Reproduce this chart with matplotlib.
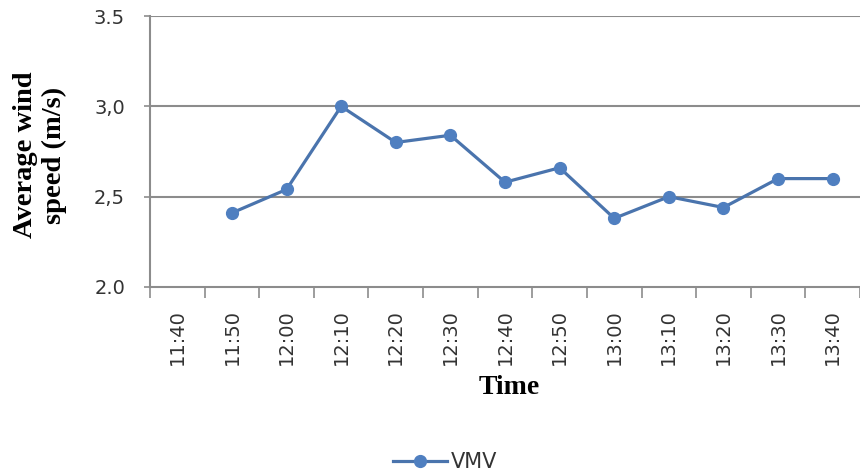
import numpy as np
import matplotlib
matplotlib.use("Agg")
import matplotlib.pyplot as plt
from matplotlib.ticker import FixedLocator

times = ["11:40", "11:50", "12:00", "12:10", "12:20", "12:30", "12:40",
         "12:50", "13:00", "13:10", "13:20", "13:30", "13:40"]
vmv = [np.nan, 2.41, 2.54, 3.00, 2.80, 2.84, 2.58, 2.66, 2.38, 2.50, 2.44, 2.60, 2.60]
yticks = [2.0, 2.5, 3.0, 3.5]
ytick_labels = ["2.0", "2,5", "3,0", "3.5"]
series_name = "VMV"

W, H = 860, 473
fig = plt.figure(figsize=(W / 100, H / 100), dpi=100)
ax = fig.add_axes([150 / W, 1 - 287 / H, 1 - 150 / W, (287 - 16) / H])

grid_col = "#8c8c8c"
line_col = "#4a74ad"
text_col = "#333333"

x = np.arange(len(times))
ax.plot(x, vmv, color=line_col, lw=2.3, marker="o", markersize=8.5,
        markerfacecolor="#4f7fc0", markeredgecolor="#4f7fc0", label=series_name, zorder=3)

ax.set_xlim(-0.5, len(times) - 0.5)
ax.set_ylim(2.0, 3.5)
ax.set_yticks(yticks)
ax.set_yticklabels(ytick_labels)
ax.set_xticks(x)
ax.set_xticklabels(times, rotation=90)
ax.xaxis.set_minor_locator(FixedLocator(np.arange(-0.5, len(times) - 0.4, 1.0)))

ax.tick_params(axis="x", which="major", length=0, pad=16, labelsize=14, labelcolor=text_col)
ax.tick_params(axis="x", which="minor", length=8, width=1.2, color=grid_col, direction="out")
ax.tick_params(axis="y", which="major", length=4, width=1.2, color=grid_col, pad=14,
               labelsize=14, labelcolor=text_col)

for y in yticks[1:]:
    ax.axhline(y, color=grid_col, lw=1.5, zorder=1)

for s in ["top", "right"]:
    ax.spines[s].set_visible(False)
for s in ["left", "bottom"]:
    ax.spines[s].set_color(grid_col)
    ax.spines[s].set_linewidth(1.5)

serif = ["Liberation Serif", "DejaVu Serif"]
fig.text(40 / W, 1 - 155 / H, "Average wind\nspeed (m/s)", rotation=90, ha="center",
         va="center", fontsize=20.5, fontweight="bold", family=serif, linespacing=1.15,
         multialignment="center")
fig.text(509 / W, 1 - 388 / H, "Time", ha="center", va="center", fontsize=20,
         fontweight="bold", family=serif)

leg = fig.legend(loc="center", bbox_to_anchor=(445 / W, 1 - 462 / H), frameon=False,
                 fontsize=15, handlelength=2.6, handletextpad=0.15, borderpad=0)
for t in leg.get_texts():
    t.set_color(text_col)

fig.savefig("out.png", dpi=100)
